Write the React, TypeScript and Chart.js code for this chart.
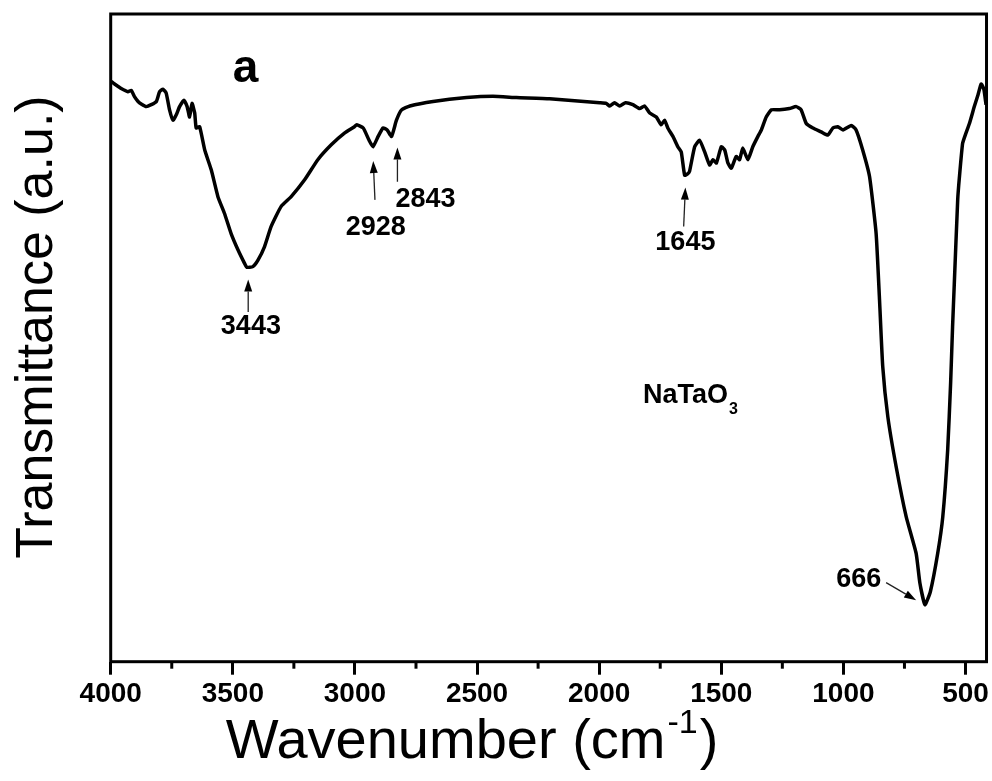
import React, { useEffect, useRef } from "react";
import { Chart, registerables } from "chart.js";

Chart.register(...registerables);

// ---- data ----
const wavenumbers = [
  3998, 3984, 3957, 3929, 3916, 3902, 3888, 3875, 3854, 3834,
  3813, 3800, 3786, 3773, 3759, 3745, 3732, 3718, 3700, 3687,
  3677, 3667, 3656, 3650, 3636, 3615, 3588, 3561, 3534, 3507,
  3479, 3452, 3443, 3418, 3397, 3370, 3343, 3302, 3261, 3206,
  3152, 3097, 3043, 3002, 2993, 2966, 2942, 2926, 2905, 2885,
  2868, 2850, 2830, 2809, 2775, 2680, 2543, 2435, 2339, 2203,
  1998, 1971, 1957, 1937, 1916, 1892, 1862, 1834, 1814, 1793,
  1766, 1746, 1732, 1719, 1698, 1678, 1664, 1650, 1638, 1630,
  1609, 1589, 1568, 1548, 1534, 1520, 1500, 1486, 1473, 1459,
  1439, 1425, 1412, 1391, 1371, 1350, 1336, 1316, 1295, 1261,
  1221, 1193, 1173, 1152, 1125, 1091, 1064, 1043, 1023, 1002,
  968, 948, 921, 893, 866, 852, 839, 818, 784, 743,
  702, 687, 666, 644, 614, 593, 573, 561, 553, 546,
  532, 525, 512, 501, 484, 464, 449, 436, 425, 416,
];

const transmittance = [
  89.6, 89.2, 88.5, 88.0, 88.2, 87.2, 86.5, 86.1, 85.7, 86.0,
  86.5, 88.0, 88.4, 87.8, 85.2, 83.6, 84.4, 85.7, 86.7, 85.7,
  84.1, 86.2, 84.7, 82.4, 82.6, 79.0, 75.9, 71.8, 69.2, 66.1,
  63.6, 61.5, 60.9, 61.0, 62.0, 64.1, 67.2, 70.3, 71.8, 74.4,
  77.5, 79.8, 81.6, 82.6, 82.9, 82.4, 80.5, 79.5, 81.1, 82.4,
  82.1, 81.1, 83.6, 85.2, 85.8, 86.5, 87.1, 87.3, 87.1, 86.9,
  86.3, 86.2, 85.8, 86.3, 85.8, 86.3, 86.0, 85.4, 85.8, 84.7,
  84.1, 82.9, 83.6, 82.4, 81.1, 79.5, 78.7, 75.1, 75.3, 75.7,
  79.5, 80.5, 78.7, 76.7, 77.5, 77.0, 79.5, 79.0, 77.0, 76.2,
  78.0, 77.5, 79.3, 77.5, 79.5, 81.1, 82.1, 84.1, 85.2, 85.2,
  85.4, 85.7, 85.2, 83.1, 82.4, 81.8, 81.3, 82.4, 82.6, 82.1,
  82.8, 82.1, 79.0, 74.9, 66.1, 55.8, 45.6, 37.8, 30.1, 22.4,
  16.7, 12.2, 8.8, 10.8, 16.7, 22.4, 32.7, 43.0, 51.7, 58.3,
  71.3, 74.8, 80.0, 81.3, 83.1, 85.7, 87.5, 89.2, 88.4, 86.0,
];

const xTickValues = [4000, 3500, 3000, 2500, 2000, 1500, 1000, 500];
const xMinorTickValues = [3750, 3250, 2750, 2250, 1750, 1250, 750];
const xMin = 414;
const xMax = 4000;

const peakLabels = ["3443", "2928", "2843", "1645", "666"];
const xTitle = "Wavenumber (cm";
const xTitleSup = "-1";
const yTitle = "Transmittance (a.u.)";
const panelLetter = "a";
const sampleName = "NaTaO";
const sampleSub = "3";

// annotation placement, in data units (wavenumber, transmittance)
const peakMarks = [
  { label: peakLabels[0], text: [3426, 50.6], tail: [3437, 54.0], tip: [3437, 59.0] },
  { label: peakLabels[1], text: [2915, 65.9], tail: [2918, 71.3], tip: [2925, 77.3] },
  { label: peakLabels[2], text: [2711, 70.2], tail: [2826, 74.1], tip: [2826, 79.4] },
  { label: peakLabels[3], text: [1647, 63.6], tail: [1654, 67.2], tip: [1647, 73.2] },
  { label: peakLabels[4], text: [937, 11.5], tail: [825, 12.2], tip: [702, 9.5] },
];
const letterPos = [3500, 89.5];
const samplePos = [1821, 39.9];

const FONT = "'Liberation Sans', Arial, Helvetica, sans-serif";

const overlayPlugin = {
  id: "overlay",
  afterDatasetsDraw(chart: any) {
    const { ctx, chartArea: ca, scales } = chart;
    const x = scales.x;
    const y = scales.y;
    const px = (v: number) => x.getPixelForValue(v);
    const py = (v: number) => y.getPixelForValue(v);
    ctx.save();

    // frame
    ctx.strokeStyle = "#000";
    ctx.lineWidth = 3;
    ctx.strokeRect(ca.left, ca.top, ca.right - ca.left, ca.bottom - ca.top);

    // minor ticks
    ctx.lineWidth = 3;
    for (const v of xMinorTickValues) {
      const p = px(v);
      ctx.beginPath();
      ctx.moveTo(p, ca.bottom);
      ctx.lineTo(p, ca.bottom + 7);
      ctx.stroke();
    }

    // peak labels + arrows
    ctx.fillStyle = "#000";
    ctx.font = `bold 27px ${FONT}`;
    ctx.textAlign = "center";
    ctx.textBaseline = "alphabetic";
    for (const m of peakMarks) {
      ctx.fillText(m.label, px(m.text[0]), py(m.text[1]));
      const x1 = px(m.tail[0]);
      const y1 = py(m.tail[1]);
      const x2 = px(m.tip[0]);
      const y2 = py(m.tip[1]);
      const ang = Math.atan2(y2 - y1, x2 - x1);
      const headLen = 12;
      const headW = 4;
      const bx = x2 - headLen * Math.cos(ang);
      const by = y2 - headLen * Math.sin(ang);
      ctx.strokeStyle = "#222";
      ctx.lineWidth = 1.3;
      ctx.beginPath();
      ctx.moveTo(x1, y1);
      ctx.lineTo(bx, by);
      ctx.stroke();
      ctx.beginPath();
      ctx.moveTo(x2, y2);
      ctx.lineTo(bx + headW * Math.sin(ang), by - headW * Math.cos(ang));
      ctx.lineTo(bx - headW * Math.sin(ang), by + headW * Math.cos(ang));
      ctx.closePath();
      ctx.fill();
    }

    // panel letter
    ctx.textAlign = "left";
    ctx.font = `bold 46px ${FONT}`;
    ctx.fillText(panelLetter, px(letterPos[0]), py(letterPos[1]));

    // sample name with subscript
    ctx.font = `bold 27px ${FONT}`;
    const sx = px(samplePos[0]);
    const sy = py(samplePos[1]);
    ctx.fillText(sampleName, sx, sy);
    const sw = ctx.measureText(sampleName).width;
    ctx.font = `bold 16px ${FONT}`;
    ctx.fillText(sampleSub, sx + sw + 1, sy + 11);

    // x title with superscript
    const F = 56;
    ctx.font = `${F}px ${FONT}`;
    const w1 = ctx.measureText(xTitle).width;
    ctx.font = `${Math.round(F * 0.6)}px ${FONT}`;
    const w2 = ctx.measureText(xTitleSup).width;
    ctx.font = `${F}px ${FONT}`;
    const w3 = ctx.measureText(")").width;
    const total = w1 + w2 + w3 + 4;
    const cx = 472;
    const base = 758;
    let tx = cx - total / 2;
    ctx.fillText(xTitle, tx, base);
    tx += w1 + 2;
    ctx.font = `${Math.round(F * 0.6)}px ${FONT}`;
    ctx.fillText(xTitleSup, tx, base - F * 0.45);
    tx += w2 + 2;
    ctx.font = `${F}px ${FONT}`;
    ctx.fillText(")", tx, base);

    // y title
    ctx.save();
    ctx.translate(52, 327);
    ctx.rotate(-Math.PI / 2);
    ctx.textAlign = "center";
    ctx.font = `52px ${FONT}`;
    ctx.fillText(yTitle, 0, 0);
    ctx.restore();

    ctx.restore();
  },
};

export default function App() {
  const canvasRef = useRef<HTMLCanvasElement | null>(null);

  useEffect(() => {
    document.body.style.margin = "0";
    const canvas = canvasRef.current;
    if (!canvas) return;
    const points = wavenumbers.map((w, i) => ({ x: w, y: transmittance[i] }));
    const chart = new Chart(canvas, {
      type: "line",
      data: {
        datasets: [
          {
            data: points,
            borderColor: "#000",
            borderWidth: 3.5,
            pointRadius: 0,
            tension: 0.15,
            fill: false,
          },
        ],
      },
      options: {
        animation: false,
        responsive: false,
        devicePixelRatio: 1,
        layout: { padding: { left: 110.7, top: 14, right: 5.3, bottom: 0 } },
        plugins: { legend: { display: false }, tooltip: { enabled: false } },
        scales: {
          x: {
            type: "linear",
            reverse: true,
            min: xMin,
            max: xMax,
            afterBuildTicks: (scale: any) => {
              scale.ticks = xTickValues.map((v) => ({ value: v }));
            },
            afterFit: (scale: any) => {
              scale.height = 119.3;
            },
            border: { display: false },
            grid: {
              drawOnChartArea: false,
              drawTicks: true,
              tickLength: 13,
              tickWidth: 3,
              tickColor: "#000",
            },
            ticks: {
              autoSkip: false,
              maxRotation: 0,
              minRotation: 0,
              padding: 3,
              color: "#000",
              font: { family: FONT, size: 28, weight: "bold" },
              callback: (v: any) => String(v),
            },
          },
          y: {
            display: false,
            min: 0,
            max: 100,
          },
        },
      },
      plugins: [overlayPlugin],
    });
    return () => chart.destroy();
  }, []);

  return (
    <div style={{ width: 992, height: 781, position: "relative" }}>
      <canvas ref={canvasRef} width={992} height={781} style={{ display: "block" }} />
    </div>
  );
}
